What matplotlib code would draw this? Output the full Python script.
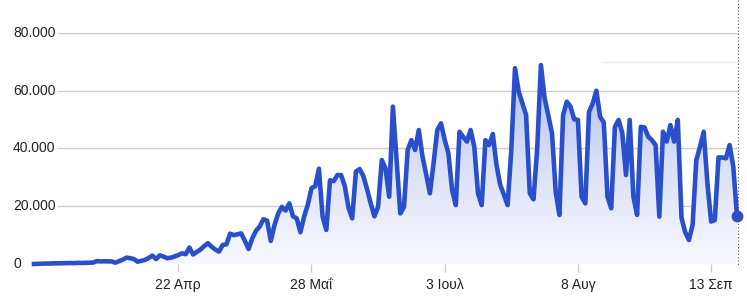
import matplotlib
matplotlib.use('Agg')
import matplotlib.pyplot as plt
import numpy as np
import pandas as pd
import matplotlib.dates as mdates
from matplotlib.transforms import blended_transform_factory
from matplotlib.colors import LinearSegmentedColormap
from matplotlib.lines import Line2D

plt.rcParams['font.family'] = ['Liberation Sans', 'DejaVu Sans']

# ---- data ----
start_date = '2020-03-14'
daily_cases = [
    0, 50, 100, 150, 150, 200, 250, 250, 300, 300,
    350, 300, 400, 350, 400, 450, 500, 1000, 900, 950,
    900, 900, 450, 1000, 1500, 2200, 2000, 1700, 800, 1100,
    1400, 2100, 2900, 1700, 3000, 2600, 2000, 2200, 2600, 3100,
    3700, 3400, 5700, 3300, 4200, 5000, 6200, 7200, 6000, 5000,
    4300, 6600, 6800, 10500, 10000, 10300, 10600, 8000, 5200, 8900,
    11500, 13000, 15500, 15000, 8000, 13500, 17500, 19800, 18500, 21000,
    16500, 15800, 11000, 16400, 20500, 26300, 26900, 33000, 16400, 11800,
    29000, 28700, 30800, 30800, 27000, 19500, 15800, 32000, 32900, 30500,
    26000, 21000, 16500, 19800, 36000, 33100, 23300, 54500, 36000, 17500,
    19800, 39500, 42900, 39500, 46400, 37200, 31000, 24500, 35000, 46400,
    48700, 43000, 38300, 25600, 20400, 45800, 44000, 42400, 46400, 40600,
    24500, 20400, 42900, 41200, 45000, 34300, 27400, 24000, 20400, 39500,
    67800, 59700, 55600, 51600, 24500, 22400, 40000, 68900, 57400, 51500,
    45300, 25000, 17000, 51600, 56200, 54500, 50100, 49900, 23300, 21000,
    52700, 55600, 60000, 51000, 49000, 23300, 19300, 47500, 49900, 45300,
    30800, 49900, 23300, 17000, 47500, 47300, 44100, 42900, 41200, 16400,
    45800, 42400, 48100, 42400, 49900, 16000, 11000, 8300, 13500, 36000,
    40600, 45800, 28000, 14700, 15200, 36900, 36900, 36600, 41200, 33700,
    16600,
]
y_ticks = [0, 20000, 40000, 60000, 80000]
y_tick_labels = ['0', '20.000', '40.000', '60.000', '80.000']
x_tick_dates = ['2020-04-22', '2020-05-28', '2020-07-03', '2020-08-08', '2020-09-13']
x_tick_labels = ['22 Απρ', '28 Μαΐ', '3 Ιουλ', '8 Αυγ', '13 Σεπ']

dates = pd.date_range(start_date, periods=len(daily_cases), freq='D')
x = mdates.date2num(dates)
vals = np.array(daily_cases, dtype=float)

W, H = 747, 298
fig = plt.figure(figsize=(W / 100, H / 100), dpi=100)
ax = fig.add_axes([33 / W, 34 / H, 705 / W, 231 / H])
for s in ax.spines.values():
    s.set_visible(False)

line_color = '#2a4fcc'

# gridlines
for v in y_ticks:
    ax.axhline(v, xmin=25 / 705, xmax=704 / 705, color='#cccccc', lw=1.0, zorder=1)

# gradient fill under the line
poly = ax.fill_between(x, vals, 0, facecolor='none', edgecolor='none', zorder=2)
cmap = LinearSegmentedColormap.from_list('g', ['#f8f9fe', '#d8dff6', '#a9b8ea'])
grad = np.linspace(0, 1, 256).reshape(-1, 1)
im = ax.imshow(grad, extent=[x[0], x[-1], 0, 72000], origin='lower', aspect='auto',
               cmap=cmap, zorder=2, interpolation='bilinear')
im.set_clip_path(poly.get_paths()[0], transform=ax.transData)

ax.plot(x, vals, color=line_color, lw=3.3, solid_joinstyle='round', zorder=4, clip_on=False)
ax.plot([x[-1]], [vals[-1]], 'o', color=line_color, ms=7.5, zorder=5, clip_on=False)

ax.set_xlim(x[0] - 0.27, x[-1] + 0.27)
ax.set_ylim(0, 80000)

# y labels (left aligned)
tr = blended_transform_factory(fig.transFigure, ax.transData)
for v, lab in zip(y_ticks, y_tick_labels):
    ax.text(13 / W, v, lab, transform=tr, ha='left', va='center', fontsize=10, color='#222222')
ax.set_yticks([])

ax.set_xticks(mdates.date2num(pd.to_datetime(x_tick_dates)))
ax.set_xticklabels(x_tick_labels)
ax.tick_params(axis='x', length=6, width=1, color='#cccccc', labelcolor='#222222',
               labelsize=10, pad=4)

# hover guide line and faint line
fig.add_artist(Line2D([738 / W, 738 / W], [1.0, 33 / H], color='#555555', lw=0.8,
                      linestyle=(0, (1, 2))))
fig.add_artist(Line2D([603 / W, 737 / W], [1 - 62 / H, 1 - 62 / H], color='#ececec', lw=1.0))

fig.savefig('out.png', dpi=100)
